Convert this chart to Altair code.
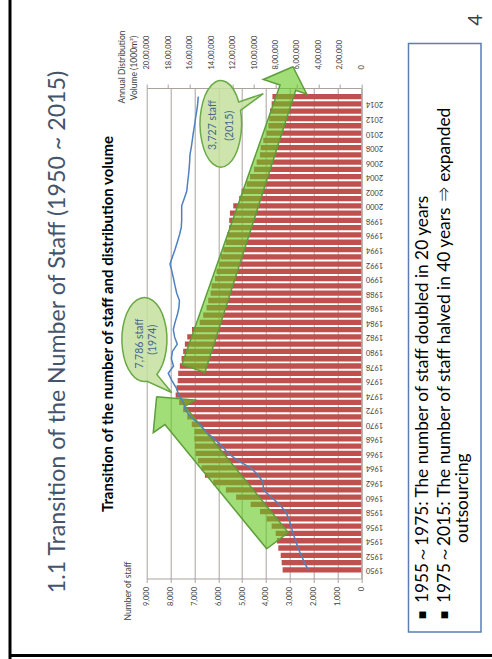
import altair as alt
import pandas as pd

# ---------------- data ----------------
years = list(range(1950, 2016))
staff = [3300, 3340, 3380, 3480, 3540, 3590, 3760, 3970, 4250, 4640,
         5250, 5680, 6210, 6560, 6700, 6850, 6950, 6980, 7000, 7000,
         7110, 7300, 7470, 7640, 7786, 7750, 7700, 7680, 7610, 7540,
         7470, 7400, 7300, 7100, 6780, 6630, 6490, 6420, 6320, 6280,
         6140, 6070, 5960, 5900, 5790, 5680, 5620, 5540, 5540, 5510,
         5370, 5120, 5020, 4810, 4670, 4500, 4390, 4250, 4220, 4110,
         3970, 3900, 3860, 3830, 3760, 3727]
volume = [494000, 530000, 560000, 590000, 612000, 635000, 655000, 675000, 705000, 765000,
          840000, 913000, 915000, 960000, 1030000, 1150000, 1240000, 1300000, 1370000, 1450000,
          1505000, 1590000, 1640000, 1659000, 1700000, 1725000, 1765000, 1799000, 1750000, 1770000,
          1760000, 1715000, 1740000, 1752000, 1736000, 1715000, 1700000, 1695000, 1720000, 1736000,
          1750000, 1765000, 1783000, 1760000, 1736000, 1715000, 1695000, 1678000, 1674000, 1674000,
          1674000, 1650000, 1627000, 1620000, 1612000, 1605000, 1600000, 1597000, 1585000, 1575000,
          1566000, 1555000, 1545000, 1534000, 1525000, 1519000]

staff_ticks = list(range(0, 9001, 1000))
volume_ticks = list(range(0, 2000001, 200000))
volume_tick_labels = ["0", "2,00,000", "4,00,000", "6,00,000", "8,00,000", "10,00,000",
                      "12,00,000", "14,00,000", "16,00,000", "18,00,000", "20,00,000"]
year_ticks = list(range(1950, 2015, 2))

# annotation arrows (vertices in staff / year units)
arrow_rise_staff = [8583, 6976, 7396, 3062, 3968, 8235, 8726, 8583]
arrow_rise_year = [1973.79, 1973.33, 1972.44, 1955.13, 1952.90, 1969.96, 1968.84, 1973.79]
arrow_fall_staff = [2865, 2286, 2752, 6559, 7522, 3406, 4111, 2865]
arrow_fall_year = [2019.11, 2015.35, 2015.88, 1977.13, 1978.21, 2016.59, 2017.36, 2019.11]

# callouts
callout_staff = [9095, 5894]
callout_year = [1981.64, 2011.29]
callout_shape = ["M 0.063 0.993 A 0.536 1 0 1 1 0.296 0.833 L 0.648 1.262 Z",
                 "M 0.457 -0.307 A 0.48 1 0 1 1 0.415 -0.501 L 0.982 -0.693 Z"]
callout_size = [7056, 7500]
callout_text = ["7,786 staff", "(1974)", "3,727 staff", "(2015)"]
callout_text_staff = [9284, 8738, 6221, 5508]
callout_text_year = [1981.1, 1981.6, 2011.1, 2011.0]

# ---------------- layout ----------------
OX, OY = 146.7, 88.0
W, H = 214.6, 490.5
FONT = "Lato"
LABEL_COLOR = "#404040"
GRID = "#AAA39D"

xscale = alt.Scale(domain=[0, 9000], reverse=True, nice=False, zero=True)
yscale = alt.Scale(domain=[1949.5, 2015.5], nice=False, zero=False)
xaxis = alt.Axis(orient="bottom", values=staff_ticks, format=",.0f", labelAngle=270,
                 labelAlign="right", labelBaseline="middle", labelFontSize=7.5,
                 labelFont=FONT, labelColor=LABEL_COLOR, labelPadding=4, tickSize=4,
                 tickColor=GRID, domainColor=GRID, gridColor=GRID, grid=True,
                 labelFlush=False, labelOverlap=False, labelBound=False, title=None)
yaxis = alt.Axis(orient="right", values=year_ticks, format="d", labelAngle=180,
                 labelAlign="right", labelBaseline="middle", labelFontSize=7.5,
                 labelFont=FONT, labelColor=LABEL_COLOR, labelPadding=4, ticks=False,
                 domainColor=GRID, grid=False, labelOverlap=False, labelBound=False,
                 labelFlush=False, title=None)


def X(field):
    return alt.X(field, type="quantitative", scale=xscale, axis=xaxis)


def Y(field):
    return alt.Y(field, type="quantitative", scale=yscale, axis=yaxis)


df = pd.DataFrame({"year": years, "staff": staff, "volume": volume})

bars = alt.Chart(df).mark_bar(orient="horizontal", size=5.3, color="#C0504D").encode(
    x=X("staff"), y=Y("year"))

arrows_df = pd.DataFrame({
    "arrow": ["rise"] * len(arrow_rise_staff) + ["fall"] * len(arrow_fall_staff),
    "order": list(range(len(arrow_rise_staff))) + list(range(len(arrow_fall_staff))),
    "staff": arrow_rise_staff + arrow_fall_staff,
    "year": arrow_rise_year + arrow_fall_year,
})
arrows = alt.Chart(arrows_df).mark_line(
    fill="#64C81E", fillOpacity=0.6, stroke="#5E9E3A", strokeWidth=1.5,
    strokeJoin="miter", clip=False).encode(
    x=X("staff"), y=Y("year"), detail="arrow:N", order="order:Q")

callout_df = pd.DataFrame({"staff": callout_staff, "year": callout_year,
                           "shape": callout_shape, "size": callout_size})
callouts = alt.layer(*[
    alt.Chart(callout_df.iloc[[i]]).mark_point(
        shape=callout_shape[i], size=callout_size[i], filled=True, fill="#C4E09E",
        fillOpacity=0.85, stroke="#6AAA46", strokeWidth=1.5, opacity=1, clip=False).encode(
        x=X("staff"), y=Y("year"))
    for i in range(len(callout_shape))
])

ctext_df = pd.DataFrame({"staff": callout_text_staff, "year": callout_text_year,
                         "t": callout_text})
ctexts = alt.Chart(ctext_df).mark_text(angle=270, align="center", baseline="middle",
                                       fontSize=10.5, font=FONT, color="#46658C").encode(
    x=X("staff"), y=Y("year"), text="t:N")

inner = alt.layer(bars, arrows, callouts, ctexts)

vol_label_expr = "[" + ",".join("'%s'" % s for s in volume_tick_labels) + "][round(datum.value / 200000)]"
line = alt.Chart(df).mark_line(color="#4F81BD", strokeWidth=1.5).encode(
    x=alt.X("volume:Q", scale=alt.Scale(domain=[0, 2000000], reverse=True, nice=False),
            axis=alt.Axis(orient="top", values=volume_ticks, labelExpr=vol_label_expr,
                          labelAngle=270, labelAlign="left", labelBaseline="middle",
                          labelFontSize=7.5, labelFont=FONT, labelColor=LABEL_COLOR,
                          labelPadding=15, tickSize=4, tickColor=GRID, domainColor=GRID,
                          grid=False, labelFlush=False, labelOverlap=False,
                          labelBound=False, title=None)),
    y=Y("year"),
    order=alt.Order("year:Q"))


def txt(text, x, y, size, color="#000000", weight="normal", angle=270, align="center"):
    return alt.Chart(pd.DataFrame({"t": [text]})).mark_text(
        angle=angle, align=align, baseline="middle", fontSize=size, font=FONT,
        color=color, fontWeight=weight).encode(
        x=alt.value(x - OX), y=alt.value(y - OY), text="t:N")


dummy = pd.DataFrame({"a": [0]})
border_left = alt.Chart(dummy).mark_rule(color="#000000", strokeWidth=3).encode(
    x=alt.value(10 - OX), y=alt.value(0 - OY), y2=alt.value(659 - OY))
border_bottom = alt.Chart(dummy).mark_rule(color="#000000", strokeWidth=3).encode(
    x=alt.value(10 - OX), x2=alt.value(492 - OX), y=alt.value(655.5 - OY))
box = alt.Chart(dummy).mark_rect(fill="white", stroke="#5B7DB3", strokeWidth=1.5).encode(
    x=alt.value(408.5 - OX), x2=alt.value(481 - OX), y=alt.value(43.5 - OY), y2=alt.value(632 - OY))

texts = [
    txt("1.1 Transition of the Number of Staff (1950 ~ 2015)", 58, 332, 23.2, color="#44546A"),
    txt("Transition of the number of staff and distribution volume", 108, 324, 15, weight="bold"),
    txt("Number of staff", 128, 591, 8.5, color=LABEL_COLOR),
    txt("Annual Distribution", 122, 67, 8.5, color=LABEL_COLOR),
    txt("Volume (1000m³)", 133.5, 68, 8.5, color=LABEL_COLOR),
    txt("■", 423, 615, 14),
    txt("1955～1975: The number of staff doubled in 20 years", 423, 603, 17.3, align="left"),
    txt("■", 445, 615, 14),
    txt("1975～2015:  The number of staff halved in 40 years ⇒ expanded", 445, 603, 17.3, align="left"),
    txt("outsourcing", 463, 543, 17.3, align="left"),
    txt("4", 476, 20, 20, color="#404040"),
]

chart = alt.layer(border_left, border_bottom, box, inner, line, *texts).resolve_scale(
    x="independent"
).properties(
    width=W, height=H,
    padding={"left": OX, "top": OY, "right": 492 - OX - W, "bottom": 659 - OY - H},
    autosize=alt.AutoSizeParams(type="none"),
    background="white",
).configure_view(stroke=None)

chart.save("out.html", embed_options={"renderer": "svg", "actions": False})
